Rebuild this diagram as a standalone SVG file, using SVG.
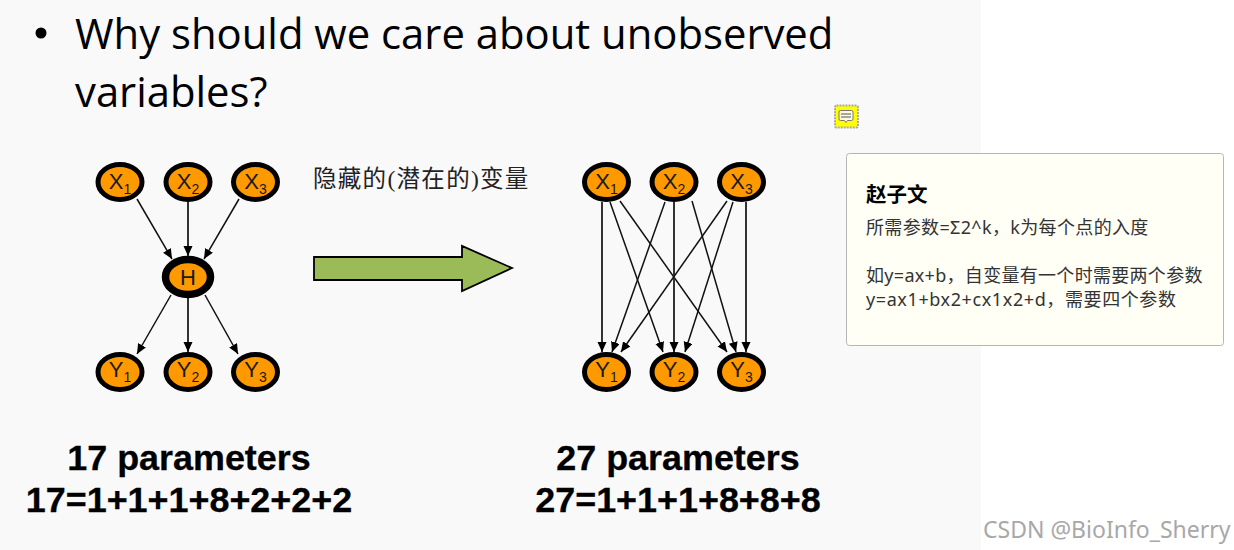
<svg xmlns="http://www.w3.org/2000/svg" width="1234" height="550" viewBox="0 0 1234 550">
<style>
.n{fill:#ff9900;stroke:#000;stroke-width:5}
.h{fill:#ff9900;stroke:#000;stroke-width:7.500}
.l{font-family:"Liberation Sans",Arial,sans-serif;font-size:22px;fill:#1a1a1a;text-anchor:middle}
.s{font-size:14px}
.c line{stroke:#111;stroke-width:1.500;marker-end:url(#a)}
.c line.v{stroke:#333;stroke-width:2}
.t{font-family:"Open Sans","Noto Sans",sans-serif;font-size:41.800px;fill:#000}
.p{font-family:"Liberation Sans",Arial,sans-serif;font-size:35.900px;font-weight:700;fill:#000;text-anchor:middle;stroke:#000;stroke-width:.3}
.z{font-family:"Noto Sans","Noto Sans CJK SC",sans-serif;font-size:18px;fill:#333}
</style>
<defs>
<marker id="a" markerUnits="userSpaceOnUse" markerWidth="11" markerHeight="10" refX="10" refY="4.5" orient="auto"><path d="M0 0L10 4.5L0 9z" fill="#000"/></marker>
<g id="nx"><ellipse rx="22" ry="17.500" class="n"/></g>
</defs>
<rect width="981" height="550" fill="#f9f9f9"/>
<rect x="981" width="253" height="550" fill="#fff"/>
<circle cx="41" cy="33" r="5.500" fill="#000"/>
<text class="t" x="75" y="49">Why should we care about unobserved</text>
<text class="t" x="75" y="107">variables?</text>
<text x="313" y="187" font-family="'Liberation Serif','Noto Sans CJK SC',serif" font-size="23.500" letter-spacing="1.300" fill="#222">隐藏的(潜在的)变量</text>
<g id="connectors" class="c">
<line x1="137" y1="199" x2="172" y2="259"/>
<line class="v" x1="188" y1="202" x2="188" y2="256"/>
<line x1="239" y1="199" x2="204" y2="259"/>
<line x1="171" y1="295" x2="137" y2="354"/>
<line class="v" x1="188" y1="298" x2="188" y2="352"/>
<line x1="205" y1="295" x2="238" y2="354"/>
<line class="v" x1="602" y1="202" x2="602" y2="352"/>
<line x1="610" y1="202" x2="663" y2="352"/>
<line x1="620" y1="201" x2="727" y2="352"/>
<line x1="665" y1="202" x2="612" y2="352"/>
<line class="v" x1="674" y1="202" x2="674" y2="352"/>
<line x1="692" y1="201" x2="736" y2="352"/>
<line x1="727" y1="201" x2="621" y2="352"/>
<line x1="733" y1="202" x2="685" y2="352"/>
<line class="v" x1="746" y1="202" x2="746" y2="352"/>
</g>
<g id="X1"><use href="#nx" x="120" y="182"/><text class="l" x="120" y="189">X<tspan class="s" dy="5">1</tspan></text></g>
<g id="X2"><use href="#nx" x="188" y="182"/><text class="l" x="188" y="189">X<tspan class="s" dy="5">2</tspan></text></g>
<g id="X3"><use href="#nx" x="255.500" y="182"/><text class="l" x="255.500" y="189">X<tspan class="s" dy="5">3</tspan></text></g>
<g id="H"><ellipse cx="188" cy="277" rx="22.500" ry="17.500" class="h"/><text class="l" x="188" y="285">H</text></g>
<g id="Y1"><use href="#nx" x="120" y="372"/><text class="l" x="120" y="377">Y<tspan class="s" dy="5">1</tspan></text></g>
<g id="Y2"><use href="#nx" x="188" y="372"/><text class="l" x="188" y="377">Y<tspan class="s" dy="5">2</tspan></text></g>
<g id="Y3"><use href="#nx" x="255.500" y="372"/><text class="l" x="255.500" y="377">Y<tspan class="s" dy="5">3</tspan></text></g>
<g id="X1b"><use href="#nx" x="606.500" y="182"/><text class="l" x="606.500" y="189">X<tspan class="s" dy="5">1</tspan></text></g>
<g id="X2b"><use href="#nx" x="674" y="182"/><text class="l" x="674" y="189">X<tspan class="s" dy="5">2</tspan></text></g>
<g id="X3b"><use href="#nx" x="741.500" y="182"/><text class="l" x="741.500" y="189">X<tspan class="s" dy="5">3</tspan></text></g>
<g id="Y1b"><use href="#nx" x="606.500" y="372"/><text class="l" x="606.500" y="377">Y<tspan class="s" dy="5">1</tspan></text></g>
<g id="Y2b"><use href="#nx" x="674" y="372"/><text class="l" x="674" y="377">Y<tspan class="s" dy="5">2</tspan></text></g>
<g id="Y3b"><use href="#nx" x="741.500" y="372"/><text class="l" x="741.500" y="377">Y<tspan class="s" dy="5">3</tspan></text></g>
<g id="bigarrow"><path d="M314 257H462V246L512 268L462 291V280H314z" fill="#9bbb59" stroke="#000" stroke-width="1.800"/></g>
<text class="p" x="189" y="470">17 parameters</text>
<text class="p" x="189" y="512">17=1+1+1+8+2+2+2</text>
<text class="p" x="678" y="470">27 parameters</text>
<text class="p" x="678" y="512">27=1+1+1+8+8+8</text>
<g id="noteicon">
<rect x="835" y="105.500" width="23" height="22" rx="1.500" fill="#ffff00" stroke="#aaa" stroke-width="2" stroke-dasharray="2 1"/>
<path d="M840.500 110.500h11a1.500 1.500 0 0 1 1.500 1.500v7a1.500 1.500 0 0 1-1.500 1.500h-4l-1.500 2l-1.500-2h-4a1.500 1.500 0 0 1-1.500-1.500v-7a1.500 1.500 0 0 1 1.500-1.500z" fill="#fffbe0" stroke="#777" stroke-width="1"/>
<path d="M841 114h10M841 117h10" stroke="#555" stroke-width="1"/>
</g>
<g id="note">
<rect x="846.500" y="153.500" width="377" height="192" rx="3" fill="#fffff6" stroke="#b5b5b5" stroke-width="1"/>
<text class="z" x="866" y="202" style="font-size:20.500px;font-weight:700;fill:#000">赵子文</text>
<text class="z" x="866" y="234" letter-spacing=".35">所需参数=Σ2^k，k为每个点的入度</text>
<text class="z" x="866" y="282" letter-spacing=".3">如y=ax+b，自变量有一个时需要两个参数</text>
<text class="z" x="866" y="306" letter-spacing=".6">y=ax1+bx2+cx1x2+d，需要四个参数</text>
</g>
<text x="983" y="538" font-family="'Noto Sans','Noto Sans CJK SC',sans-serif" font-size="23" fill="#a8a8a8">CSDN @BioInfo_Sherry</text>
</svg>
